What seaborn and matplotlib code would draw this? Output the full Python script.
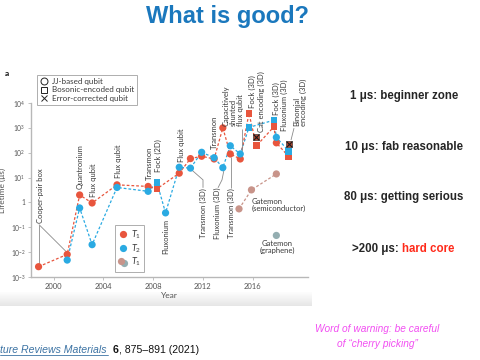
import numpy as np
import pandas as pd
import matplotlib
matplotlib.use("Agg")
import matplotlib.pyplot as plt
import seaborn as sns
from matplotlib.lines import Line2D
from matplotlib.legend_handler import HandlerBase
from matplotlib.colors import LinearSegmentedColormap

# ---------------- data ----------------
jj_t1_year = [1998.8, 2001.1, 2002.1, 2003.1, 2005.1, 2007.6, 2010.1, 2011.0,
              2011.9, 2012.9, 2013.6, 2014.2, 2015.0, 2017.9]
jj_t1 = [0.0026, 0.0081, 2.0, 0.95, 5.1, 4.4, 15, 58, 72, 56, 1000, 89, 56, 250]
jj_t2_year = [2001.1, 2002.1, 2003.1, 2005.1, 2007.6, 2009.0, 2010.1, 2011.0,
              2011.9, 2012.9, 2013.6, 2014.2, 2015.0, 2017.9]
jj_t2 = [0.0048, 0.6, 0.02, 4.0, 2.8, 0.38, 26, 24, 104, 63, 25, 190, 89, 415]
bos_t1_year = [2008.3, 2015.7, 2016.3, 2017.7, 2018.9]
bos_t1 = [3.5, 3800, 190, 1100, 69]
bos_t2_year = [2008.3, 2015.7, 2017.7, 2018.9]
bos_t2 = [6.5, 1040, 2040, 115]
ec_year = [2016.3, 2018.9]
ec_life = [440, 224]
gatemon_year = [2014.9, 2015.9, 2017.9]
gatemon_t1 = [0.55, 3.2, 14]
graphene_year = [2017.9]
graphene_t1 = [0.047]

x_ticks = [2000, 2004, 2008, 2012, 2016]
y_ticks = [1e-3, 1e-2, 1e-1, 1, 1e1, 1e2, 1e3, 1e4]
y_ticklabels = [r"10$^{-3}$", r"10$^{-2}$", r"10$^{-1}$", "1", r"10$^{1}$",
                r"10$^{2}$", r"10$^{3}$", r"10$^{4}$"]

RED = "#e8553d"
BLUE = "#2aaae2"
PINK = "#c8948a"
GREY = "#94aeb1"
TXT = "#3a3a3a"

# ---------------- style ----------------
sns.set_theme(style="ticks")
plt.rcParams['font.family'] = ['Lato', 'DejaVu Sans']
plt.rcParams['mathtext.fontset'] = 'custom'
plt.rcParams['mathtext.rm'] = 'Lato'
plt.rcParams['mathtext.it'] = 'Lato:italic'
plt.rcParams['mathtext.bf'] = 'Lato:bold'

W, H = 480, 360
fig = plt.figure(figsize=(4.8, 3.6), dpi=100)
fig.patch.set_facecolor("white")

# soft shadow band under the pasted figure
cmap = LinearSegmentedColormap.from_list("g", ["#ffffff", "#e6e6e6"])
gax = fig.add_axes([0, 1 - 306 / H, 312 / W, 14 / H], zorder=-5)
gax.imshow(np.linspace(0, 1, 64).reshape(-1, 1), cmap=cmap, aspect="auto")
gax.axis("off")

ax = fig.add_axes([31 / W, 1 - 277 / H, 277 / W, 174 / H])
ax.set_facecolor("none")
ax.set_yscale("log")


def yr(px):
    return 2000 + (px - 53.5) / 12.45


def val(py):
    return 10 ** ((202.7 - py) / 25.0)


ax.set_xlim(yr(31), yr(308))
ax.set_ylim(1e-3, 1e4)

# ---------------- lines ----------------
t1_line = pd.DataFrame({"year": jj_t1_year + bos_t1_year,
                        "life": jj_t1 + bos_t1}).sort_values("year")
t2_line = pd.DataFrame({"year": jj_t2_year + bos_t2_year,
                        "life": jj_t2 + bos_t2}).sort_values("year")
gm_line = pd.DataFrame({"year": gatemon_year, "life": gatemon_t1})
dash = (0, (2.2, 1.6))
sns.lineplot(data=t2_line, x="year", y="life", color=BLUE, lw=0.9,
             linestyle=dash, sort=True, estimator=None, ax=ax, zorder=1)
sns.lineplot(data=t1_line, x="year", y="life", color=RED, lw=0.9,
             linestyle=dash, sort=True, estimator=None, ax=ax, zorder=1)
sns.lineplot(data=gm_line, x="year", y="life", color=PINK, lw=0.9,
             linestyle=dash, sort=True, estimator=None, ax=ax, zorder=1)

# ---------------- markers ----------------
S = 27
sns.scatterplot(x=jj_t1_year, y=jj_t1, color=RED, marker="o", s=S,
                edgecolor="none", ax=ax, zorder=3)
sns.scatterplot(x=jj_t2_year, y=jj_t2, color=BLUE, marker="o", s=S,
                edgecolor="none", ax=ax, zorder=4)
sns.scatterplot(x=bos_t1_year, y=bos_t1, color=RED, marker="s", s=S - 4,
                edgecolor="none", ax=ax, zorder=3)
sns.scatterplot(x=bos_t2_year, y=bos_t2, color=BLUE, marker="s", s=S - 4,
                edgecolor="none", ax=ax, zorder=4)
sns.scatterplot(x=ec_year, y=ec_life, color="#b5452f", marker="s", s=S - 4,
                edgecolor="#222222", linewidth=0.4, ax=ax, zorder=5)
ax.scatter(ec_year, ec_life, color="#1a1a1a", marker="x", s=18,
           linewidths=0.8, zorder=6)
sns.scatterplot(x=gatemon_year, y=gatemon_t1, color=PINK, marker="o", s=S,
                edgecolor="none", ax=ax, zorder=3)
sns.scatterplot(x=graphene_year, y=graphene_t1, color=GREY, marker="o", s=S,
                edgecolor="none", ax=ax, zorder=3)

# ---------------- axes cosmetics ----------------
for s in ["top", "right"]:
    ax.spines[s].set_visible(False)
for s in ["left", "bottom"]:
    ax.spines[s].set_color("#b8b8b8")
    ax.spines[s].set_linewidth(1.0)
ax.set_xticks(x_ticks)
ax.set_xticklabels([str(t) for t in x_ticks])
ax.set_yticks(y_ticks)
ax.set_yticklabels(y_ticklabels)
ax.minorticks_off()
ax.tick_params(axis="both", length=2, width=0.6, color="#b8b8b8",
               labelcolor="#555555", pad=2)
ax.tick_params(axis="x", labelsize=5.5)
ax.tick_params(axis="y", labelsize=4.8)
ax.set_xlabel("Year", fontsize=6, color="#555555", labelpad=2)
ax.set_ylabel("Lifetime (μs)", fontsize=6, color="#555555", labelpad=3)

# ---------------- annotations ----------------
LFS = 5.5
up_labels = [
    ("Cooper-pair box", 41, 223),
    ("Quantronium", 80.5, 189),
    ("Flux qubit", 93.5, 197),
    ("Flux qubit", 118, 178),
    ("Transmon", 149.5, 180),
    ("Fock (2D)", 158.5, 172),
    ("Flux qubit", 181.5, 162),
    ("Transmon", 214, 149),
    ("Capacitively\nshunted\nflux qubit", 233, 126),
    ("Fock (3D)", 252.5, 108),
    ("Cat encoding (3D)", 261, 132),
    ("Fock (3D)", 276, 115),
    ("Fluxonium (3D)", 284.5, 131),
    ("Binomial\nencoding (3D)", 300, 126),
]
down_labels = [
    ("Fluxonium", 166, 219),
    ("Transmon (3D)", 203.5, 188),
    ("Fluxonium (3D)", 217.5, 188),
    ("Transmon (3D)", 231, 188),
]
for t, px, py in up_labels:
    ax.text(yr(px), val(py), t, rotation=90, ha="center", va="bottom",
            fontsize=LFS, color=TXT, linespacing=1.05, multialignment="left",
            zorder=7)
for t, px, py in down_labels:
    ax.text(yr(px), val(py), t, rotation=90, ha="center", va="top",
            fontsize=LFS, color=TXT, zorder=7)

ax.text(yr(252), val(205.5), "Gatemon\n(semiconductor)", ha="left",
        va="center", fontsize=LFS, color=TXT, linespacing=1.05)
ax.text(yr(277.5), val(247.5), "Gatemon\n(graphene)", ha="center",
        va="center", fontsize=LFS, color=TXT, linespacing=1.05,
        multialignment="center")

connectors = [
    [(39, 225), (39, 265)],
    [(39, 225), (66, 252)],
    [(191.7, 170), (203, 180), (203, 188)],
    [(224, 170), (222, 180), (218, 188)],
    [(231, 157), (231, 188)],
    [(241.7, 151), (241.7, 129)],
    [(291, 140), (294, 128)],
]
for seg in connectors:
    ax.plot([yr(p[0]) for p in seg], [val(p[1]) for p in seg],
            color="#8a8a8a", lw=0.6, zorder=2, solid_capstyle="butt")

# ---------------- legends ----------------
h1 = [Line2D([], [], marker="o", ls="none", mfc="none", mec="#222222",
             ms=5, mew=0.7),
      Line2D([], [], marker="s", ls="none", mfc="none", mec="#222222",
             ms=4.8, mew=0.7),
      Line2D([], [], marker="x", ls="none", color="#222222", ms=4.5,
             mew=0.7)]
leg1 = ax.legend(h1, ["JJ-based qubit", "Bosonic-encoded qubit",
                      "Error-corrected qubit"],
                 loc="upper left", bbox_to_anchor=((37 - 31) / 277, (277 - 75) / 174),
                 fontsize=5.8, frameon=True, fancybox=False, handlelength=1.0,
                 handletextpad=0.5, borderpad=0.35, labelspacing=0.2,
                 borderaxespad=0)
leg1.get_frame().set_edgecolor("#9a9a9a")
leg1.get_frame().set_linewidth(0.7)
for t in leg1.get_texts():
    t.set_color(TXT)
ax.add_artist(leg1)


class PairHandle:
    pass


class PairHandler(HandlerBase):
    def create_artists(self, legend, orig_handle, xdescent, ydescent, width,
                       height, fontsize, trans):
        x0 = width / 2 - xdescent
        y0 = height / 2 - ydescent
        b = Line2D([x0 + 1.3], [y0 - 0.8], marker="o", ls="none", color=GREY,
                   ms=5.2, mec="none", transform=trans)
        a = Line2D([x0 - 1.0], [y0 + 0.6], marker="o", ls="none", color=PINK,
                   ms=5.2, mec="none", transform=trans)
        return [b, a]


h2 = [Line2D([], [], marker="o", ls="none", color=RED, ms=5.2, mec="none"),
      Line2D([], [], marker="o", ls="none", color=BLUE, ms=5.2, mec="none"),
      PairHandle()]
leg2 = ax.legend(h2, [r"$T_1$", r"$T_2$", r"$T_1$"], loc="upper left",
                 bbox_to_anchor=((115 - 31) / 277, (277 - 225) / 174),
                 fontsize=6.5, frameon=True, fancybox=False, handlelength=1.0,
                 handletextpad=0.4, borderpad=0.35, labelspacing=0.15,
                 borderaxespad=0, handler_map={PairHandle: PairHandler()})
leg2.get_frame().set_edgecolor("#9a9a9a")
leg2.get_frame().set_linewidth(0.7)
for t in leg2.get_texts():
    t.set_color(TXT)

# ---------------- slide text ----------------
fig.text(7 / W, 1 - 73 / H, "a", fontsize=6, fontweight="bold",
         ha="center", va="center", color="#111111")
fig.text(228 / W, 1 - 17 / H, "What is good?", ha="center", va="center",
         fontsize=17, fontweight="bold", color="#1b78bd",
         family="Liberation Sans")

RFS = 8.3
fig.text(404 / W, 1 - 96 / H, "1 μs: beginner zone", ha="center",
         va="center", fontsize=RFS, fontweight="bold", family="Liberation Sans")
fig.text(404 / W, 1 - 147 / H, "10 μs: fab reasonable", ha="center",
         va="center", fontsize=RFS, fontweight="bold", family="Liberation Sans")
fig.text(404 / W, 1 - 197 / H, "80 μs: getting serious", ha="center",
         va="center", fontsize=RFS, fontweight="bold", family="Liberation Sans")
fig.text(352 / W, 1 - 249 / H, ">200 μs:", ha="left",
         va="center", fontsize=RFS, fontweight="bold", family="Liberation Sans")
fig.text(402 / W, 1 - 249 / H, "hard core", ha="left", va="center",
         fontsize=RFS, fontweight="bold", family="Liberation Sans",
         color="#ff2a1a")

fig.text(377 / W, 1 - 329 / H, "Word of warning: be careful", ha="center",
         va="center", fontsize=7.3, style="italic", color="#f24ff2",
         family="Liberation Sans")
fig.text(377 / W, 1 - 344 / H, "of \u201ccherry picking\u201d", ha="center",
         va="center", fontsize=7.3, style="italic", color="#f24ff2",
         family="Liberation Sans")

fig.text(0, 1 - 350 / H, "ture Reviews Materials", ha="left", va="center",
         fontsize=7.6, style="italic", color="#3b72a3",
         family="Liberation Sans")
fig.add_artist(Line2D([0, 108 / W], [1 - 355 / H, 1 - 355 / H],
                      color="#3b72a3", lw=0.6))
fig.text(113 / W, 1 - 350 / H, "6", ha="left", va="center", fontsize=7.6,
         fontweight="bold", color="#111111", family="Liberation Sans")
fig.text(119 / W, 1 - 350 / H, ", 875\u2013891 (2021)", ha="left",
         va="center", fontsize=7.6, color="#111111", family="Liberation Sans")

fig.savefig("out.png", dpi=100, facecolor="white")
